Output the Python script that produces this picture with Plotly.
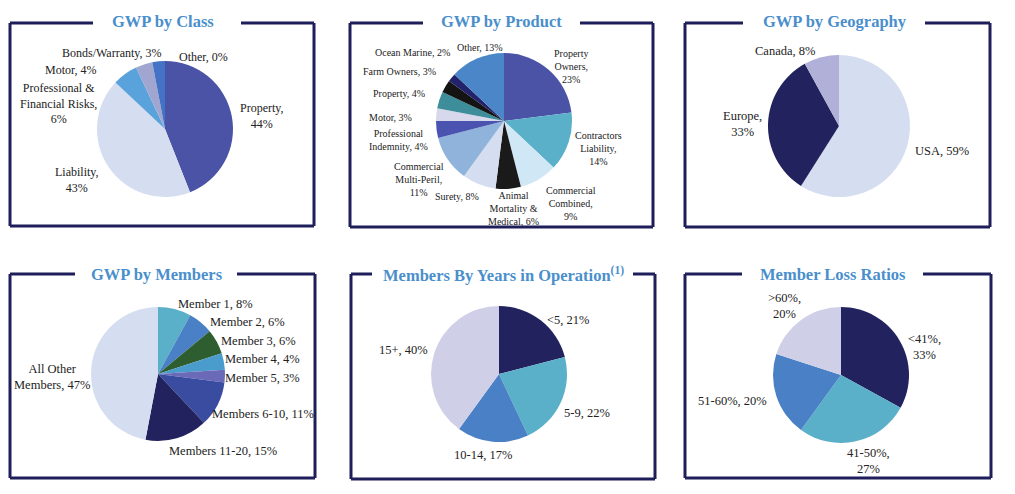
# -*- coding: utf-8 -*-
"""
GWP breakdown — six pie panels in framed boxes
Output: out.html
"""

import plotly.graph_objects as go

# ── 1. Data ───────────────────────────────────────────────────────────────────
class_names  = ['Property', 'Liability', 'Professional &<br>Financial Risks',
                'Motor', 'Bonds/Warranty', 'Other']
class_values = [44, 43, 6, 4, 3, 0]

product_names  = ['Property<br>Owners', 'Contractors<br>Liability', 'Commercial<br>Combined',
                  'Animal<br>Mortality &<br>Medical', 'Surety', 'Commercial<br>Multi-Peril',
                  'Professional<br>Indemnity', 'Motor', 'Property', 'Farm Owners',
                  'Ocean Marine', 'Other']
product_values = [23, 14, 9, 6, 8, 11, 4, 3, 4, 3, 2, 13]

geo_names  = ['USA', 'Europe', 'Canada']
geo_values = [59, 33, 8]

member_names  = ['Member 1', 'Member 2', 'Member 3', 'Member 4', 'Member 5',
                 'Members 6-10', 'Members 11-20', 'All Other<br>Members']
member_values = [8, 6, 6, 4, 3, 11, 15, 47]

years_names  = ['<5', '5-9', '10-14', '15+']
years_values = [21, 22, 17, 40]

loss_names  = ['<41%', '41-50%', '51-60%', '>60%']
loss_values = [33, 27, 20, 20]

# ── 2. Styling ────────────────────────────────────────────────────────────────
W, H = 1015, 494
OFF = 8                      # page body margin — figure starts 8px in
FW, FH = W - OFF, H - OFF
SERIF = 'Liberation Serif, Times New Roman, serif'
TITLE_BLUE = '#4a8fcc'
FRAME = '#1e1f5a'
TXT = '#222222'

NAVY, INDIGO, TEAL, BLUE = '#22225e', '#4a53a6', '#5aafc9', '#4a80c6'
PALE, LAVENDER = '#d5ddf0', '#cfd0e8'

def px(x):
    return (x - OFF) / FW

def py(y):
    return 1 - (y - OFF) / FH

# panel: title, frame box, title gap, pie centre/radius, colours, label spots
panels = [
    dict(title='GWP by Class', tx=163, ty=21,
         box=(10, 23, 314, 226), gap=(93, 241),
         cx=165, cy=129, r=68, size=12,
         names=class_names, values=class_values,
         colors=[INDIGO, PALE, '#5aa2dc', '#a0a6cf', '#4472c4', '#3c5aa8'],
         spots=[(262, 116, 1), (77, 180, 1), (58, 103, 1),
                (71, 70, 0), (112, 53, 0), (203, 57, 0)]),
    dict(title='GWP by Product', tx=501, ty=21,
         box=(350, 23, 653, 227), gap=(423, 580),
         cx=504, cy=121, r=68, size=10,
         names=product_names, values=product_values,
         colors=[INDIGO, TEAL, '#d0e8f5', '#1a1a1a', PALE, '#8fb3da',
                 '#4a54b0', '#d8d8ec', '#3d8d9a', '#141414', '#23236b', '#4a86c8'],
         spots=[(571, 67, 1), (598, 148, 1), (571, 204, 1), (513, 208, 0),
                (457, 197, 0), (419, 180, 1), (398, 140, 0), (390, 118, 0),
                (399, 93, 0), (399, 71, 0), (412, 52, 0), (480, 48, 0)]),
    dict(title='GWP by Geography', tx=835, ty=22,
         box=(685, 23, 990, 227), gap=(743, 925),
         cx=839, cy=126, r=71, size=12.5,
         names=geo_names, values=geo_values,
         colors=[PALE, NAVY, '#b0b0d8'],
         spots=[(942, 151, 0), (742, 124, 1), (785, 51, 0)]),
    dict(title='GWP by Members', tx=157, ty=274,
         box=(10, 274, 315, 478), gap=(75, 237),
         cx=158, cy=374, r=67, size=12.5,
         names=member_names, values=member_values,
         colors=[TEAL, BLUE, '#2e5e30', '#4a9ccc', '#6a6ab8', '#3a4ca0', NAVY, PALE],
         spots=[(215, 304, 0), (247, 322, 0), (258, 341, 0), (263, 359, 0),
                (263, 378, 0), (263, 414, 0), (223, 451, 0), (52, 377, 0)]),
    dict(title='Members By Years in Operation<sup>(1)</sup>', tx=503, ty=274,
         box=(351, 274, 655, 479), gap=(372, 633),
         cx=499, cy=374, r=68, size=12.5,
         names=years_names, values=years_values,
         colors=[NAVY, TEAL, BLUE, LAVENDER],
         spots=[(568, 320, 0), (587, 413, 0), (483, 455, 0), (403, 350, 0)]),
    dict(title='Member Loss Ratios', tx=833, ty=274,
         box=(685, 274, 991, 478), gap=(742, 923),
         cx=841, cy=375, r=68, size=12.5,
         names=loss_names, values=loss_values,
         colors=[NAVY, TEAL, BLUE, LAVENDER],
         spots=[(924, 347, 1), (868, 461, 1), (732, 401, 0), (784, 306, 1)]),
]

# ── 3. Build figure ───────────────────────────────────────────────────────────
fig = go.Figure()

for p in panels:
    cx, cy, r = p['cx'], p['cy'], p['r']
    fig.add_trace(go.Pie(
        labels=p['names'], values=p['values'],
        marker=dict(colors=p['colors'], line=dict(width=0)),
        sort=False, direction='clockwise', rotation=0,
        textinfo='none', hoverinfo='label+percent',
        showlegend=False,
        domain=dict(x=[px(cx - r), px(cx + r)], y=[py(cy + r), py(cy - r)]),
    ))

    # frame: left, right, bottom and the two top pieces around the title
    x0, y0, x1, y1 = p['box']
    g0, g1 = p['gap']
    for sx0, sy0, sx1, sy1 in [(x0, y0, x0, y1), (x1, y0, x1, y1), (x0, y1, x1, y1),
                               (x0, y0, g0, y0), (g1, y0, x1, y0)]:
        fig.add_shape(type='line', xref='paper', yref='paper',
                      x0=px(sx0), y0=py(sy0), x1=px(sx1), y1=py(sy1),
                      line=dict(color=FRAME, width=3))

    fig.add_annotation(
        text=f"<b>{p['title']}</b>",
        xref='paper', yref='paper', x=px(p['tx']), y=py(p['ty']),
        showarrow=False, xanchor='center', yanchor='middle',
        font=dict(family=SERIF, size=16.5, color=TITLE_BLUE)
    )

    for name, val, (lx, ly, brk) in zip(p['names'], p['values'], p['spots']):
        sep = ',<br>' if brk else ', '
        fig.add_annotation(
            text=f'{name}{sep}{val}%',
            xref='paper', yref='paper', x=px(lx), y=py(ly),
            showarrow=False, xanchor='center', yanchor='middle', align='center',
            font=dict(family=SERIF, size=p['size'], color=TXT)
        )

# ── 4. Layout ─────────────────────────────────────────────────────────────────
fig.update_layout(
    width=FW, height=FH,
    margin=dict(l=0, r=0, t=0, b=0),
    paper_bgcolor='white', plot_bgcolor='white',
    font=dict(family=SERIF, color=TXT),
)

fig.write_html('out.html')
